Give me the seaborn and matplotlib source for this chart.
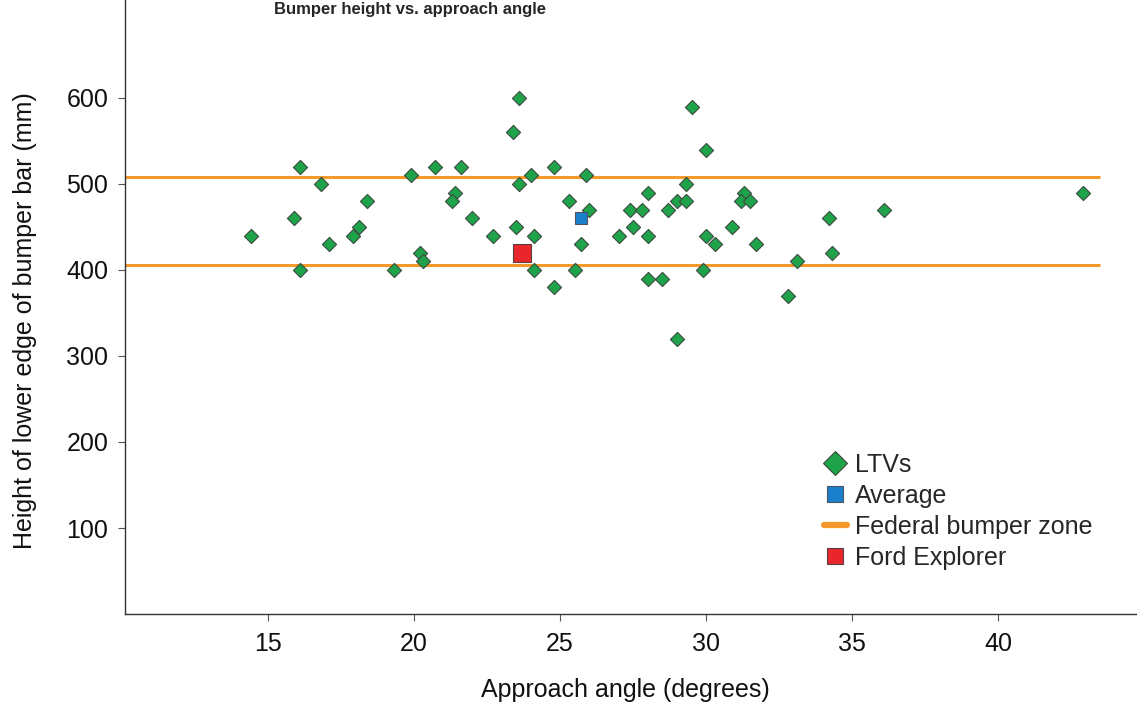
import numpy as np
import pandas as pd
import matplotlib
matplotlib.use("Agg")
import matplotlib.pyplot as plt
from matplotlib.lines import Line2D
import seaborn as sns

# LTV approach angle (deg) and bumper bar lower edge height (mm)
ltv_angle = [23.6, 23.4, 16.1, 20.7, 21.6, 19.9, 24.0, 16.8, 23.6, 21.4,
             21.3, 18.4, 15.9, 22.0, 18.1, 23.5, 14.4, 17.9, 22.7, 24.1,
             17.1, 20.2, 20.3, 16.1, 19.3, 24.1,
             29.5, 30.0, 24.8, 25.9, 29.3, 28.0, 31.3, 25.3, 29.0, 29.3,
             31.2, 31.5, 26.0, 27.4, 27.8, 28.7, 34.2, 27.5, 30.9, 27.0,
             28.0, 30.0, 25.7, 30.3, 31.7, 34.3, 33.1, 25.5, 29.9, 28.0,
             28.5, 24.8, 32.8, 29.0, 42.9, 36.1]
ltv_height = [600, 560, 520, 520, 520, 510, 510, 500, 500, 490,
              480, 480, 460, 460, 450, 450, 440, 440, 440, 440,
              430, 420, 410, 400, 400, 400,
              590, 540, 520, 510, 500, 490, 490, 480, 480, 480,
              480, 480, 470, 470, 470, 470, 460, 450, 450, 440,
              440, 440, 430, 430, 430, 420, 410, 400, 400, 390,
              390, 380, 370, 320, 490, 470]

avg_angle, avg_height = [25.7], [460]
ford_angle, ford_height = [23.7], [420]

zone_heights = [406, 508]
zone_angle_range = [10.1, 43.5]

x_ticks = [15, 20, 25, 30, 35, 40]
y_ticks = [100, 200, 300, 400, 500, 600]

GREEN = "#1fa34a"
BLUE = "#1a7fcb"
RED = "#e8262b"
ORANGE = "#f39a2b"

sns.set_style("ticks")
plt.rcParams["font.family"] = ["Liberation Sans", "DejaVu Sans"]

fig = plt.figure(figsize=(11.37, 7.11), dpi=100)
ax = fig.add_axes([0.1099, 0.1364, 0.899, 0.871])

df = pd.DataFrame({"angle": ltv_angle, "height": ltv_height})

ax.hlines(zone_heights, zone_angle_range[0], zone_angle_range[1],
          color=ORANGE, lw=2.2, zorder=1)
sns.scatterplot(data=df, x="angle", y="height", marker="D", s=52,
                color=GREEN, edgecolor="#3d4a40", linewidth=0.8, ax=ax, zorder=3)
sns.scatterplot(x=avg_angle, y=avg_height, marker="s", s=72, color=BLUE,
                edgecolor="#4a5560", linewidth=0.8, ax=ax, zorder=4)
sns.scatterplot(x=ford_angle, y=ford_height, marker="s", s=175, color=RED,
                edgecolor="#5a4040", linewidth=0.8, ax=ax, zorder=4)

ax.set_xlim(10.1, 45.1)
ax.set_ylim(0, 720)
ax.set_xticks(x_ticks)
ax.set_yticks(y_ticks)
ax.tick_params(labelsize=18, length=5, width=0.8, color="#555555",
               labelcolor="#111111", pad=7)
ax.tick_params(axis="x", pad=8)
for side in ["left", "bottom"]:
    ax.spines[side].set_color("#333333")
    ax.spines[side].set_linewidth(1.0)
sns.despine(ax=ax)

ax.set_xlabel("Approach angle (degrees)", fontsize=18, color="#111111")
ax.set_ylabel("Height of lower edge of bumper bar (mm)", fontsize=18, color="#111111")
# axis-fraction positions for the label centres
ax.xaxis.set_label_coords((625 - 125) / 1022, -(690 - 614) / 620, transform=ax.transAxes)
ax.yaxis.set_label_coords(-(125 - 25) / 1022, (614 - 320) / 620, transform=ax.transAxes)
ax.xaxis.label.set_va("center")
ax.yaxis.label.set_va("center")

handles = [
    Line2D([], [], ls="none", marker="D", ms=12.5, mfc=GREEN, mec="#3d4a40", mew=0.8),
    Line2D([], [], ls="none", marker="s", ms=11.5, mfc=BLUE, mec="#4a5560", mew=0.8),
    Line2D([], [], color=ORANGE, lw=4.5),
    Line2D([], [], ls="none", marker="s", ms=11.5, mfc=RED, mec="#5a4040", mew=0.8),
]
labels = ["LTVs", "Average", "Federal bumper zone", "Ford Explorer"]
ax.legend(handles, labels, loc="upper left", bbox_to_anchor=(814 / 1137, 1 - 443 / 711),
          bbox_transform=fig.transFigure, frameon=False, fontsize=18,
          handlelength=0.9, handletextpad=0.35, labelspacing=0.28, borderaxespad=0)

fig.text(410 / 1137, 1 - 2 / 711, "Bumper height vs. approach angle", fontsize=12,
         fontweight="bold", ha="center", va="top")

fig.savefig("out.png", dpi=100)
